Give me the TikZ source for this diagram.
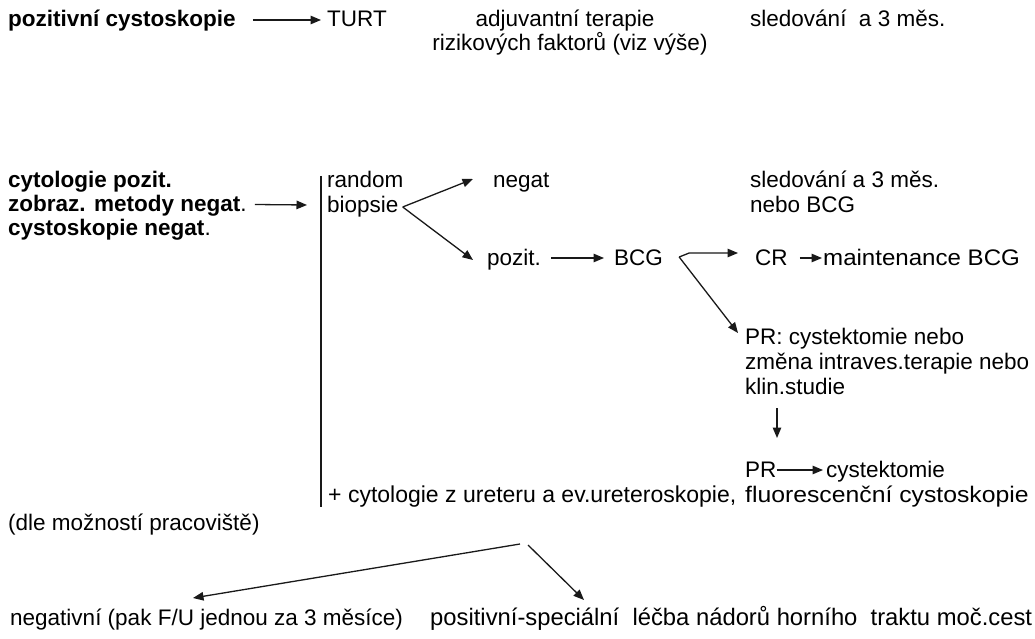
\documentclass[tikz,border=0pt]{standalone}
\usepackage{fontspec}
\usepackage{graphicx}
\setmainfont{Liberation Sans}
\usetikzlibrary{arrows.meta}
\begin{document}
\begin{tikzpicture}[x=1pt,y=-1pt,
  txt/.style={anchor=base west, inner sep=0pt, font=\fontsize{22.5}{25}\selectfont},
  bld/.style={anchor=base west, inner sep=0pt, font=\fontsize{22.5}{23.5}\selectfont\bfseries},
  arr/.style={line width=1.3pt, draw=black!90, -{Triangle[length=10.5pt,width=8.5pt]}},
  ln/.style={line width=1.3pt, draw=black!90}]
\useasboundingbox[fill=white] (0,0) rectangle (1035,639);

% top row
\node[bld] (poscys) at (8,27) {pozitivní cystoskopie};
\node[txt] (turt) at (327,27) {TURT};
\node[txt, anchor=base] (adj1) at (565,27) {adjuvantní terapie};
\node[txt, anchor=base] (adj2) at (570,51) {rizikových faktorů (viz výše)};
\node[txt] (sled1) at (750,27) {sledování\ \ a 3 měs.};
\draw[arr] ([shift={(17,-7)}]poscys.base east) -- ([shift={(-6,-7)}]turt.base west);

% middle block
\node[bld] (cyt1) at (8,188) {cytologie pozit.};
\node[bld] (cyt2) at (8,211.5) {zobraz. metody negat{\mdseries.}};
\node[bld] (cyt3) at (8,235) {cystoskopie negat{\mdseries.}};
\node[txt] (random) at (327,187) {random};
\node[txt] (biopsie) at (327,212) {biopsie};
\node[txt] (negat) at (493,187) {negat};
\node[txt] (sled2) at (750,187) {sledování a 3 měs.};
\node[txt] (nebo) at (750,212) {nebo BCG};
\node[txt] (pozit) at (487,265) {pozit.};
\node[txt] (bcg) at (614,265) {BCG};
\node[txt] (cr) at (755,265) {CR};
\node[txt] (maint) at (823,265) {\scalebox{1.07}[1]{maintenance BCG}};
\node[txt] (pra) at (745,344) {PR: cystektomie nebo};
\node[txt] (prb) at (745,369) {změna intraves.terapie nebo};
\node[txt] (prc) at (745,394) {klin.studie};
\node[txt] (pr2) at (745,477) {PR};
\node[txt] (cyst) at (826,477) {cystektomie};
\node[txt, font=\fontsize{23}{25}\selectfont] (cytur) at (328,502) {+ cytologie z ureteru a ev.ureteroskopie,};
\node[txt] (fluor) at (745,502) {\scalebox{1.1}[1]{fluorescenční cystoskopie}};
\node[txt] (dle) at (8,530) {(dle možností pracoviště)};
\node[txt] (neg) at (10,625) {negativní (pak F/U jednou za 3 měsíce)};
\node[txt, font=\fontsize{23.8}{25}\selectfont] (pos) at (430,625) {positivní-speciální\ \ léčba nádorů horního\ \ traktu moč.cest};

\coordinate (vtop) at (321,176);
\coordinate (vbot) at (321,507);
\draw[ln] (vtop) -- (vbot);

\draw[arr] ([shift={(8,-7)}]cyt2.base east) -- ([shift={(-20,-7)}]biopsie.base west);
\coordinate (bio) at ([shift={(4,-5)}]biopsie.base east);
\draw[arr] (bio) -- ([shift={(-20,-8)}]negat.base west);
\draw[arr] (bio) -- ([shift={(-14,-5)}]pozit.base west);
\draw[arr] ([shift={(10,-7)}]pozit.base east) -- ([shift={(-10,-7)}]bcg.base west);
\coordinate (bo) at ([shift={(16,-8)}]bcg.base east);
\draw[arr] (bo) -- ++(10,-4) -- ([shift={(-17,-12)}]cr.base west);
\draw[arr] (bo) -- ([shift={(-7,-11)}]pra.base west);
\draw[arr] ([shift={(12,-7)}]cr.base east) -- ([shift={(-1,-7)}]maint.base west);
\draw[arr] ([shift={(32,14)}]prc.base west) -- ([shift={(32,-39)}]pr2.base west);
\draw[arr] ([shift={(0,-7)}]pr2.base east) -- ([shift={(-3,-7)}]cyst.base west);

\coordinate (bl) at (520,544);
\coordinate (brr) at (528,545);
\draw[arr] (bl) -- ([shift={(183,-27)}]neg.base west);
\draw[arr] (brr) -- ([shift={(154,-25)}]pos.base west);
\end{tikzpicture}
\end{document}
